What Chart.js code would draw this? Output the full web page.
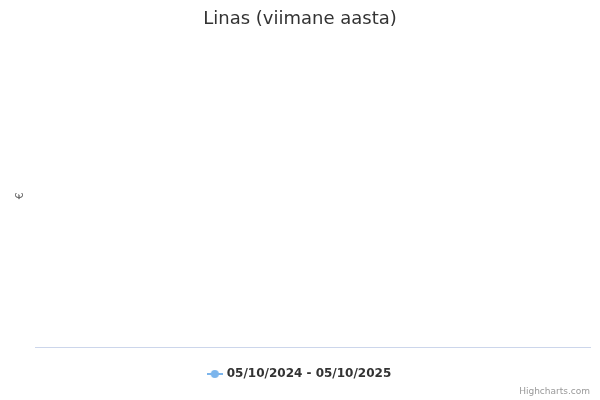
<!DOCTYPE html>
<html lang="et">
<head>
    <meta charset="UTF-8">
    <title>Linas (viimane aasta)</title>
    <script src="https://cdn.jsdelivr.net/npm/chart.js"></script>
    <style>
        body { margin: 0; background: #fff; }
        #wrap { width: 600px; height: 400px; }
    </style>
</head>
<body>
    <div id="wrap">
        <canvas id="myChart"></canvas>
    </div>
    <script>
    // Chart data (the reference has no points for the period)
    const chartTitle = 'Linas (viimane aasta)';
    const yAxisTitle = '€';
    const seriesLabel = '05/10/2024 - 05/10/2025';
    const dates = [];
    const prices = [];
    const seriesColor = '#7cb5ec';

    // Legend symbol: short line with a dot, like the original
    const marker = document.createElement('canvas');
    marker.width = 16;
    marker.height = 10;
    const mctx = marker.getContext('2d');
    mctx.strokeStyle = seriesColor;
    mctx.lineWidth = 2;
    mctx.beginPath();
    mctx.moveTo(0, 5);
    mctx.lineTo(16, 5);
    mctx.stroke();
    mctx.fillStyle = seriesColor;
    mctx.beginPath();
    mctx.arc(8, 5, 4, 0, Math.PI * 2);
    mctx.fill();

    // Small credit text at the bottom right
    const creditPlugin = {
        id: 'credit',
        afterDraw(chart) {
            const c = chart.ctx;
            c.save();
            c.font = '9px "DejaVu Sans"';
            c.fillStyle = '#999999';
            c.textAlign = 'right';
            c.textBaseline = 'middle';
            c.fillText('Highcharts.com', 590, 392);
            c.restore();
        }
    };

    const ctx = document.getElementById('myChart').getContext('2d');
    const myChart = new Chart(ctx, {
        type: 'line',
        data: {
            labels: dates,
            datasets: [{
                label: seriesLabel,
                data: prices,
                borderColor: seriesColor,
                backgroundColor: seriesColor,
                pointStyle: marker,
                fill: false
            }]
        },
        options: {
            responsive: true,
            maintainAspectRatio: false,
            animation: false,
            layout: {
                padding: { left: 10, right: 10, top: 0, bottom: 10 }
            },
            scales: {
                x: {
                    grid: { display: false },
                    border: { display: true, color: '#ccd6eb', width: 1 },
                    ticks: { display: false },
                    afterFit: scale => { scale.height = 13; }
                },
                y: {
                    grid: { display: false },
                    border: { display: false },
                    ticks: { display: false },
                    title: {
                        display: true,
                        text: yAxisTitle,
                        color: '#666666',
                        font: { family: '"DejaVu Sans"', size: 11 }
                    },
                    afterFit: scale => { scale.width = 25; }
                }
            },
            plugins: {
                legend: {
                    position: 'bottom',
                    labels: {
                        usePointStyle: true,
                        color: '#333333',
                        padding: 8,
                        font: { family: '"DejaVu Sans"', size: 12, weight: 'bold' }
                    }
                },
                title: {
                    display: true,
                    text: chartTitle,
                    color: '#333333',
                    padding: { top: 9, bottom: 14 },
                    font: { family: '"DejaVu Sans"', size: 18, weight: 'normal' }
                },
                tooltip: { enabled: false }
            }
        },
        plugins: [creditPlugin]
    });
    </script>
</body>
</html>
